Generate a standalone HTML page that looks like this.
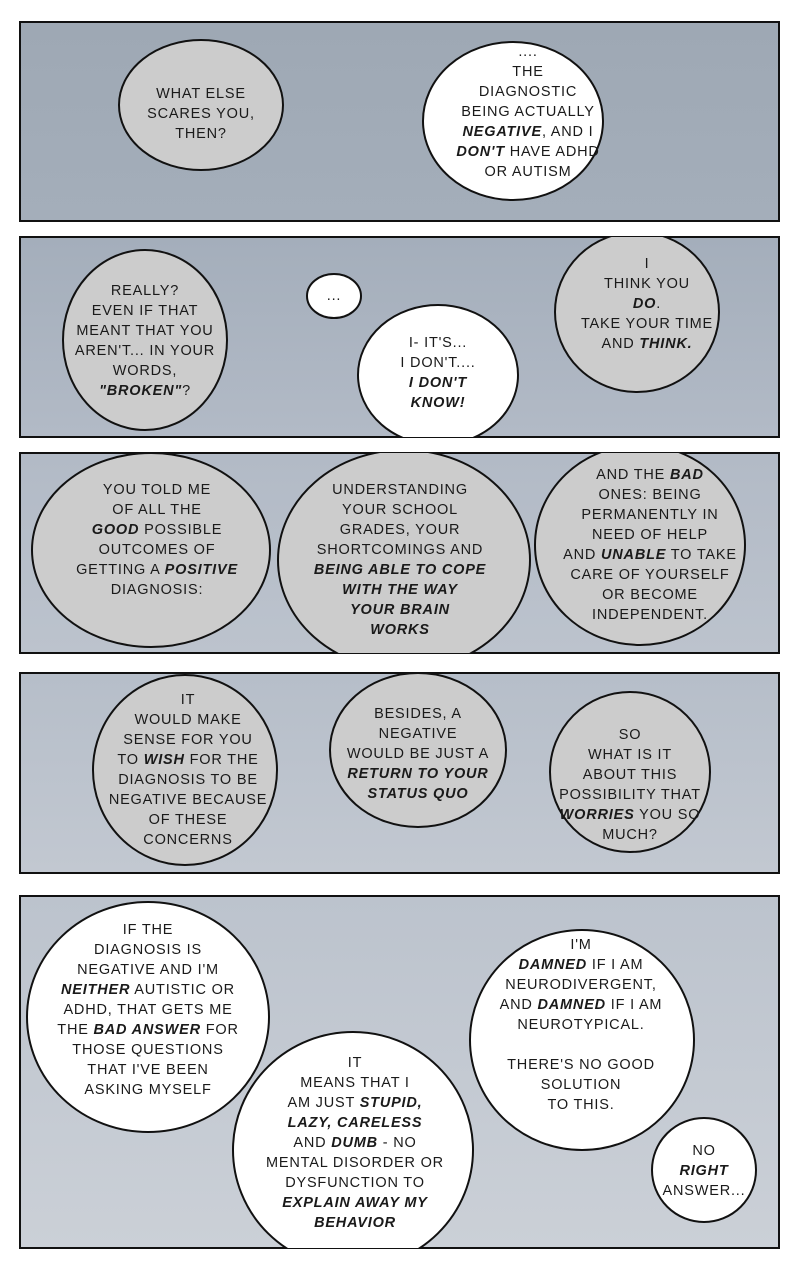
<!DOCTYPE html>
<html><head><meta charset="utf-8"><style>
html,body{margin:0;padding:0;background:#fff;}
svg text{font-family:"Liberation Sans",sans-serif;font-size:14.5px;letter-spacing:0.8px;fill:#1a1a1a;text-anchor:middle;}
.b{font-weight:bold;font-style:italic;}
</style></head><body>
<svg width="800" height="1280" viewBox="0 0 800 1280" xmlns="http://www.w3.org/2000/svg">
<defs>
<linearGradient id="g1" x1="0" y1="0" x2="0" y2="1"><stop offset="0" stop-color="#9ea8b4"/><stop offset="1" stop-color="#a4aeba"/></linearGradient>
<linearGradient id="g2" x1="0" y1="0" x2="0" y2="1"><stop offset="0" stop-color="#a4aebb"/><stop offset="1" stop-color="#b2bac6"/></linearGradient>
<linearGradient id="g3" x1="0" y1="0" x2="0" y2="1"><stop offset="0" stop-color="#b2bac6"/><stop offset="1" stop-color="#bcc3cd"/></linearGradient>
<linearGradient id="g4" x1="0" y1="0" x2="0" y2="1"><stop offset="0" stop-color="#b6bec9"/><stop offset="1" stop-color="#c2c8d1"/></linearGradient>
<linearGradient id="g5" x1="0" y1="0" x2="0" y2="1"><stop offset="0" stop-color="#bcc3cd"/><stop offset="1" stop-color="#cbd0d7"/></linearGradient>
<clipPath id="c1"><rect x="20" y="22" width="759" height="199"/></clipPath>
<clipPath id="c2"><rect x="20" y="237" width="759" height="200"/></clipPath>
<clipPath id="c3"><rect x="20" y="453" width="759" height="200"/></clipPath>
<clipPath id="c4"><rect x="20" y="673" width="759" height="200"/></clipPath>
<clipPath id="c5"><rect x="20" y="896" width="759" height="352"/></clipPath>
</defs>
<g stroke="#111" stroke-width="2">
<rect x="20" y="22" width="759" height="199" fill="url(#g1)"/>
<g clip-path="url(#c1)">
<ellipse cx="201" cy="105" rx="82" ry="65" fill="#cccccc"/>
<ellipse cx="513" cy="121" rx="90" ry="79" fill="#fff"/>
</g>
<rect x="20" y="237" width="759" height="200" fill="url(#g2)"/>
<g clip-path="url(#c2)">
<ellipse cx="145" cy="340" rx="82" ry="90" fill="#cccccc"/>
<ellipse cx="334" cy="296" rx="27" ry="22" fill="#fff"/>
<ellipse cx="438" cy="375" rx="80" ry="70" fill="#fff"/>
<ellipse cx="637" cy="312" rx="82" ry="80" fill="#cccccc"/>
</g>
<rect x="20" y="453" width="759" height="200" fill="url(#g3)"/>
<g clip-path="url(#c3)">
<ellipse cx="151" cy="550" rx="119" ry="97" fill="#cccccc"/>
<ellipse cx="404" cy="560" rx="126" ry="110" fill="#cccccc"/>
<ellipse cx="640" cy="545" rx="105" ry="100" fill="#cccccc"/>
</g>
<rect x="20" y="673" width="759" height="200" fill="url(#g4)"/>
<g clip-path="url(#c4)">
<ellipse cx="185" cy="770" rx="92" ry="95" fill="#cccccc"/>
<ellipse cx="418" cy="750" rx="88" ry="77" fill="#cccccc"/>
<ellipse cx="630" cy="772" rx="80" ry="80" fill="#cccccc"/>
</g>
<rect x="20" y="896" width="759" height="352" fill="url(#g5)"/>
<g clip-path="url(#c5)">
<ellipse cx="148" cy="1017" rx="121" ry="115" fill="#fff"/>
<ellipse cx="353" cy="1150" rx="120" ry="118" fill="#fff"/>
<ellipse cx="582" cy="1040" rx="112" ry="110" fill="#fff"/>
<ellipse cx="704" cy="1170" rx="52" ry="52" fill="#fff"/>
</g>
</g>

<text x="201" y="98">WHAT ELSE</text>
<text x="201" y="118">SCARES YOU,</text>
<text x="201" y="138">THEN?</text>
<text x="528" y="56">....</text>
<text x="528" y="76">THE</text>
<text x="528" y="96">DIAGNOSTIC</text>
<text x="528" y="116">BEING ACTUALLY</text>
<text x="528" y="136"><tspan class="b">NEGATIVE</tspan>, AND I</text>
<text x="528" y="156"><tspan class="b">DON'T</tspan> HAVE ADHD</text>
<text x="528" y="176">OR AUTISM</text>

<text x="145" y="295">REALLY?</text>
<text x="145" y="315">EVEN IF THAT</text>
<text x="145" y="335">MEANT THAT YOU</text>
<text x="145" y="355">AREN'T... IN YOUR</text>
<text x="145" y="375">WORDS,</text>
<text x="145" y="395"><tspan class="b">"BROKEN"</tspan>?</text>
<text x="334" y="300">...</text>
<text x="438" y="347">I- IT'S...</text>
<text x="438" y="367">I DON'T....</text>
<text x="438" y="387" class="b">I DON'T</text>
<text x="438" y="407" class="b">KNOW!</text>
<text x="647" y="268">I</text>
<text x="647" y="288">THINK YOU</text>
<text x="647" y="308"><tspan class="b">DO</tspan>.</text>
<text x="647" y="328">TAKE YOUR TIME</text>
<text x="647" y="348">AND <tspan class="b">THINK.</tspan></text>

<text x="157" y="494">YOU TOLD ME</text>
<text x="157" y="514">OF ALL THE</text>
<text x="157" y="534"><tspan class="b">GOOD</tspan> POSSIBLE</text>
<text x="157" y="554">OUTCOMES OF</text>
<text x="157" y="574">GETTING A <tspan class="b">POSITIVE</tspan></text>
<text x="157" y="594">DIAGNOSIS:</text>
<text x="400" y="494">UNDERSTANDING</text>
<text x="400" y="514">YOUR SCHOOL</text>
<text x="400" y="534">GRADES, YOUR</text>
<text x="400" y="554">SHORTCOMINGS AND</text>
<text x="400" y="574" class="b">BEING ABLE TO COPE</text>
<text x="400" y="594" class="b">WITH THE WAY</text>
<text x="400" y="614" class="b">YOUR BRAIN</text>
<text x="400" y="634" class="b">WORKS</text>
<text x="650" y="479">AND THE <tspan class="b">BAD</tspan></text>
<text x="650" y="499">ONES: BEING</text>
<text x="650" y="519">PERMANENTLY IN</text>
<text x="650" y="539">NEED OF HELP</text>
<text x="650" y="559">AND <tspan class="b">UNABLE</tspan> TO TAKE</text>
<text x="650" y="579">CARE OF YOURSELF</text>
<text x="650" y="599">OR BECOME</text>
<text x="650" y="619">INDEPENDENT.</text>

<text x="188" y="704">IT</text>
<text x="188" y="724">WOULD MAKE</text>
<text x="188" y="744">SENSE FOR YOU</text>
<text x="188" y="764">TO <tspan class="b">WISH</tspan> FOR THE</text>
<text x="188" y="784">DIAGNOSIS TO BE</text>
<text x="188" y="804">NEGATIVE BECAUSE</text>
<text x="188" y="824">OF THESE</text>
<text x="188" y="844">CONCERNS</text>
<text x="418" y="718">BESIDES, A</text>
<text x="418" y="738">NEGATIVE</text>
<text x="418" y="758">WOULD BE JUST A</text>
<text x="418" y="778" class="b">RETURN TO YOUR</text>
<text x="418" y="798" class="b">STATUS QUO</text>
<text x="630" y="739">SO</text>
<text x="630" y="759">WHAT IS IT</text>
<text x="630" y="779">ABOUT THIS</text>
<text x="630" y="799">POSSIBILITY THAT</text>
<text x="630" y="819"><tspan class="b">WORRIES</tspan> YOU SO</text>
<text x="630" y="839">MUCH?</text>

<text x="148" y="934">IF THE</text>
<text x="148" y="954">DIAGNOSIS IS</text>
<text x="148" y="974">NEGATIVE AND I'M</text>
<text x="148" y="994"><tspan class="b">NEITHER</tspan> AUTISTIC OR</text>
<text x="148" y="1014">ADHD, THAT GETS ME</text>
<text x="148" y="1034">THE <tspan class="b">BAD ANSWER</tspan> FOR</text>
<text x="148" y="1054">THOSE QUESTIONS</text>
<text x="148" y="1074">THAT I'VE BEEN</text>
<text x="148" y="1094">ASKING MYSELF</text>
<text x="355" y="1067">IT</text>
<text x="355" y="1087">MEANS THAT I</text>
<text x="355" y="1107">AM JUST <tspan class="b">STUPID,</tspan></text>
<text x="355" y="1127" class="b">LAZY, CARELESS</text>
<text x="355" y="1147">AND <tspan class="b">DUMB</tspan> - NO</text>
<text x="355" y="1167">MENTAL DISORDER OR</text>
<text x="355" y="1187">DYSFUNCTION TO</text>
<text x="355" y="1207" class="b">EXPLAIN AWAY MY</text>
<text x="355" y="1227" class="b">BEHAVIOR</text>
<text x="581" y="949">I'M</text>
<text x="581" y="969"><tspan class="b">DAMNED</tspan> IF I AM</text>
<text x="581" y="989">NEURODIVERGENT,</text>
<text x="581" y="1009">AND <tspan class="b">DAMNED</tspan> IF I AM</text>
<text x="581" y="1029">NEUROTYPICAL.</text>
<text x="581" y="1069">THERE'S NO GOOD</text>
<text x="581" y="1089">SOLUTION</text>
<text x="581" y="1109">TO THIS.</text>
<text x="704" y="1155">NO</text>
<text x="704" y="1175" class="b">RIGHT</text>
<text x="704" y="1195">ANSWER...</text>
</svg>
</body></html>
